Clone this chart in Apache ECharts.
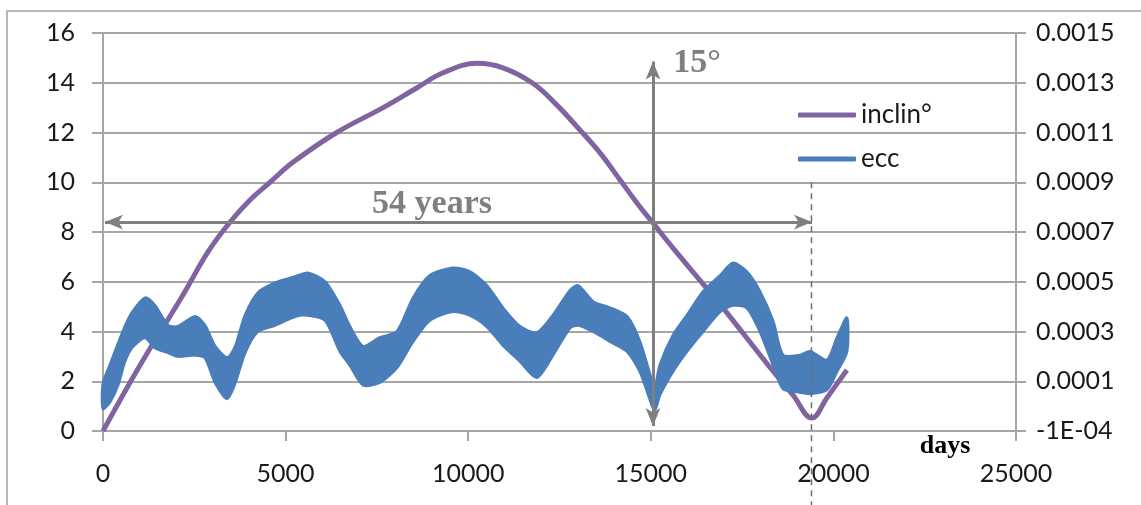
<!DOCTYPE html>
<html>
<head>
<meta charset="utf-8">
<title>inclin / ecc</title>
<script src="https://cdn.jsdelivr.net/npm/echarts@6.0.0/dist/echarts.min.js"></script>
<style>
html, body { margin: 0; padding: 0; background: #fff; }
#chart { width: 1141px; height: 505px; }
</style>
</head>
<body>
<div id="chart"></div>
<script>
// inclination in degrees (left axis)
var inclinDays = [0, 760, 1340, 1780, 2250, 2875, 3480, 4025, 4573, 5200, 6400, 7670, 8600, 9310, 10240,
    10950, 11770, 12430, 13060, 13610, 14160, 14620, 15060, 15610, 16540, 17090, 18350, 18890, 19410, 19820, 20370];
var inclinDeg = [0, 2.0, 3.45, 4.48, 5.62, 7.2, 8.4, 9.29, 10.0, 10.8, 12.0, 13.0, 13.8, 14.4, 14.78,
    14.6, 13.98, 13.1, 12.1, 11.18, 10.09, 9.17, 8.36, 7.35, 5.72, 4.74, 2.4, 1.45, 0.52, 1.33, 2.45];

// eccentricity (right axis): the curve wiggles fast, so keep upper and lower edge of the band
var eccDays = [0, 190, 410, 600, 790, 1150, 1420, 1780, 2050, 2520, 2790, 3070, 3400, 3610, 3890, 4240,
    4710, 5260, 5610, 6080, 6490, 6760, 7120, 7580, 8050, 8490, 8950, 9580, 10050, 10510, 10950, 11420,
    11880, 12320, 12790, 13010, 13420, 13880, 14350, 14700, 15030, 15110, 15250, 15610, 15990, 16430,
    16900, 17250, 17630, 17990, 18350, 18620, 19090, 19360, 19820, 20100, 20370];
var eccHigh = [0.00009, 0.000165, 0.00025, 0.00032, 0.000375, 0.000435, 0.000405, 0.000325, 0.00032, 0.00036,
    0.000325, 0.00024, 0.000195, 0.000235, 0.000365, 0.000455, 0.000495, 0.00052, 0.000535, 0.0005, 0.000405,
    0.00032, 0.00024, 0.000275, 0.0003, 0.000435, 0.000525, 0.000555, 0.00054, 0.000485, 0.000395, 0.00032,
    0.000295, 0.000365, 0.000465, 0.000485, 0.00042, 0.000395, 0.00036, 0.00026, 0.0001, 0.00007, 0.000165,
    0.000285, 0.000365, 0.00046, 0.000525, 0.000575, 0.00054, 0.00046, 0.00034, 0.000205, 0.000205, 0.00022,
    0.000185, 0.000275, 0.000355];
var eccLow = [-0.00001, 0.000017, 0.000085, 0.00018, 0.000235, 0.000275, 0.000235, 0.000215, 0.0002, 0.000205,
    0.000195, 0.000095, 0.00003, 0.00009, 0.000215, 0.0003, 0.000325, 0.00036, 0.000365, 0.000345, 0.00022,
    0.000165, 0.000085, 0.000095, 0.000155, 0.00026, 0.000345, 0.00038, 0.000365, 0.00032, 0.000245, 0.00018,
    0.000115, 0.000205, 0.000315, 0.000325, 0.0003, 0.00026, 0.00022, 0.00014, 0.000005, -0.000015, 0.000045,
    0.00014, 0.00022, 0.0003, 0.00038, 0.000405, 0.000395, 0.0003, 0.000165, 0.00007, 0.000055, 0.00005,
    0.000065, 0.00014, 0.00022];

// axes
var xRange = [0, 25000], xStep = 5000;
var leftRange = [0, 16], leftStep = 2;
var rightRange = [-0.0001, 0.0015];

// annotations (days, degrees)
var periodArrow = [[55, 8.4], [19415, 8.4]];
var heightArrow = [[15060, 0.2], [15060, 14.85]];
var periodText = [9010, 9.1];
var heightText = [16265, 14.8];
var dashLine = [[19400, 10], [19400, -3]];
var daysText = [23055, -0.6];

var purple = '#8064A2';
var blue = '#4A7EBB';
var gridGrey = '#a6a6a6';
var noteGrey = '#7f7f7f';

function eccLabel(v) {
    if (v < 0) {
        return v.toExponential(0).toUpperCase().replace(/E([+-])(\d)$/, function (m, s, d) {
            return 'E' + s + '0' + d;
        });
    }
    return v.toFixed(4);
}

var inclinData = inclinDays.map(function (d, i) { return [d, inclinDeg[i]]; });
var eccData = eccDays.map(function (d, i) { return [d, eccLow[i], eccHigh[i]]; });

// the whole band as one filled shape, edges mapped through the axes
function renderBand(params, api) {
    if (params.dataIndex !== 0) {
        return null;
    }
    var top = [], bottom = [];
    for (var i = 0; i < eccData.length; i++) {
        top.push(api.coord([eccData[i][0], eccData[i][2]]));
        bottom.unshift(api.coord([eccData[i][0], eccData[i][1]]));
    }
    return {
        type: 'polygon',
        shape: { points: top.concat(bottom), smooth: 0.25 },
        style: { fill: blue, stroke: blue, lineWidth: 3 }
    };
}

var axisFont = { fontFamily: 'Lato', fontSize: 25, color: '#1a1a1a' };

var myChart = echarts.init(document.getElementById('chart'));
myChart.setOption({
    animation: false,
    grid: { left: 103, right: 125, top: 33, bottom: 74 },
    legend: {
        data: [{ name: 'inclin°', itemStyle: { color: purple } }, { name: 'ecc', itemStyle: { color: blue } }],
        orient: 'vertical',
        left: 798,
        top: 102,
        padding: 0,
        itemGap: 18,
        itemWidth: 58,
        itemHeight: 5,
        icon: 'roundRect',
        selectedMode: false,
        textStyle: { fontFamily: 'Lato', fontSize: 26, color: '#1a1a1a' }
    },
    xAxis: {
        type: 'value',
        min: xRange[0],
        max: xRange[1],
        interval: xStep,
        splitLine: { show: false },
        axisLine: { show: true, onZero: false, lineStyle: { color: gridGrey, width: 2 } },
        axisTick: { show: true, length: 10, lineStyle: { color: gridGrey, width: 2 } },
        axisLabel: Object.assign({ margin: 30, formatter: function (v) { return String(v); } }, axisFont)
    },
    yAxis: [{
        type: 'value',
        min: leftRange[0],
        max: leftRange[1],
        interval: leftStep,
        axisLine: { show: true, lineStyle: { color: gridGrey, width: 2 } },
        axisTick: { show: true, length: 11, lineStyle: { color: gridGrey, width: 2 } },
        splitLine: { show: true, lineStyle: { color: gridGrey, width: 2 } },
        axisLabel: Object.assign({ margin: 28 }, axisFont)
    }, {
        type: 'value',
        position: 'right',
        min: rightRange[0],
        max: rightRange[1],
        alignTicks: true,
        axisLine: { show: true, lineStyle: { color: gridGrey, width: 2 } },
        axisTick: { show: true, length: 10, lineStyle: { color: gridGrey, width: 2 } },
        splitLine: { show: false },
        axisLabel: Object.assign({ margin: 20, formatter: eccLabel }, axisFont)
    }],
    series: [{
        name: 'inclin°',
        type: 'line',
        yAxisIndex: 0,
        data: inclinData,
        smooth: 0.4,
        symbol: 'none',
        z: 2,
        lineStyle: { color: purple, width: 5 },
        itemStyle: { color: purple },
        markLine: {
            silent: true,
            z: 6,
            symbol: ['arrow', 'arrow'],
            symbolSize: [11, 18],
            label: { show: false },
            lineStyle: { color: noteGrey, width: 3, type: 'solid' },
            itemStyle: { color: noteGrey },
            data: [
                [{ coord: periodArrow[0] }, { coord: periodArrow[1] }],
                [{ coord: heightArrow[0] }, { coord: heightArrow[1] }]
            ]
        },
        markPoint: {
            silent: true,
            z: 6,
            symbol: 'circle',
            symbolSize: 0,
            label: {
                show: true,
                position: 'inside',
                color: noteGrey,
                fontFamily: 'Liberation Serif',
                fontWeight: 'bold',
                fontSize: 34
            },
            data: [
                { coord: periodText, label: { formatter: '54 years' } },
                { coord: heightText, label: { formatter: '15°' } }
            ]
        }
    }, {
        name: 'ecc',
        type: 'custom',
        yAxisIndex: 1,
        data: eccData,
        encode: { x: 0, y: [1, 2] },
        renderItem: renderBand,
        z: 3,
        itemStyle: { color: blue }
    }]
});

// dashed marker and "days" sit outside the plot, so place them with the chart's own conversion
var d0 = myChart.convertToPixel({ xAxisIndex: 0, yAxisIndex: 0 }, dashLine[0]);
var d1 = myChart.convertToPixel({ xAxisIndex: 0, yAxisIndex: 0 }, dashLine[1]);
var dt = myChart.convertToPixel({ xAxisIndex: 0, yAxisIndex: 0 }, daysText);
myChart.setOption({
    graphic: [{
        type: 'rect',
        z: -1,
        silent: true,
        shape: { x: 7, y: 11, width: 1200, height: 600 },
        style: { fill: 'none', stroke: '#a0a0a0', lineWidth: 1.5 }
    }, {
        type: 'line',
        z: 10,
        silent: true,
        shape: { x1: d0[0], y1: d0[1], x2: d1[0], y2: d1[1] },
        style: { stroke: '#6f6f6f', lineWidth: 1.5, lineDash: [6, 5] }
    }, {
        type: 'text',
        z: 10,
        silent: true,
        x: dt[0],
        y: dt[1],
        style: {
            text: 'days',
            fill: '#000',
            font: 'bold 26px "Liberation Serif"',
            align: 'center',
            verticalAlign: 'middle'
        }
    }]
});
</script>
</body>
</html>
